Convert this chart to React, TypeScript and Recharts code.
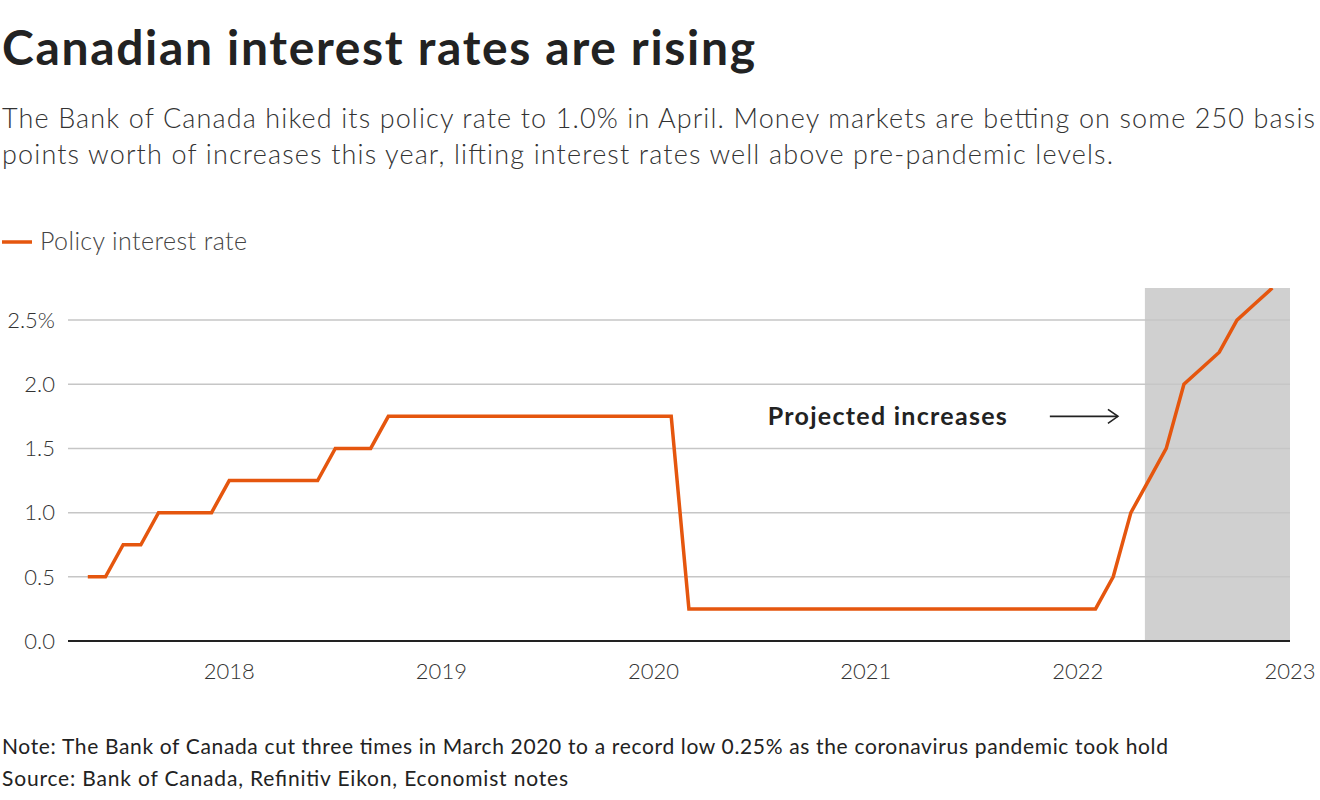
import React from 'react';
import {
  LineChart,
  Line,
  XAxis,
  YAxis,
  ReferenceArea,
  ReferenceLine,
  ReferenceDot,
} from 'recharts';

// Monthly policy rate, May 2017 – Dec 2022 (last months are market projections)
const months: string[] = [
  '2017-05', '2017-06', '2017-07', '2017-08', '2017-09', '2017-10', '2017-11', '2017-12',
  '2018-01', '2018-02', '2018-03', '2018-04', '2018-05', '2018-06', '2018-07', '2018-08', '2018-09', '2018-10', '2018-11', '2018-12',
  '2019-01', '2019-02', '2019-03', '2019-04', '2019-05', '2019-06', '2019-07', '2019-08', '2019-09', '2019-10', '2019-11', '2019-12',
  '2020-01', '2020-02', '2020-03', '2020-04', '2020-05', '2020-06', '2020-07', '2020-08', '2020-09', '2020-10', '2020-11', '2020-12',
  '2021-01', '2021-02', '2021-03', '2021-04', '2021-05', '2021-06', '2021-07', '2021-08', '2021-09', '2021-10', '2021-11', '2021-12',
  '2022-01', '2022-02', '2022-03', '2022-04', '2022-05', '2022-06', '2022-07', '2022-08', '2022-09', '2022-10', '2022-11', '2022-12',
];

const policyRate: number[] = [
  0.5, 0.5, 0.75, 0.75, 1.0, 1.0, 1.0, 1.0,
  1.25, 1.25, 1.25, 1.25, 1.25, 1.25, 1.5, 1.5, 1.5, 1.75, 1.75, 1.75,
  1.75, 1.75, 1.75, 1.75, 1.75, 1.75, 1.75, 1.75, 1.75, 1.75, 1.75, 1.75,
  1.75, 1.75, 0.25, 0.25, 0.25, 0.25, 0.25, 0.25, 0.25, 0.25, 0.25, 0.25,
  0.25, 0.25, 0.25, 0.25, 0.25, 0.25, 0.25, 0.25, 0.25, 0.25, 0.25, 0.25,
  0.25, 0.25, 0.5, 1.0, 1.25, 1.5, 2.0, 2.125, 2.25, 2.5, 2.625, 2.75,
];

const xTicks: number[] = [2018, 2019, 2020, 2021, 2022, 2023];
const yTicks: number[] = [0, 0.5, 1.0, 1.5, 2.0, 2.5];
const xDomain: [number, number] = [2017.24, 2023];
const yDomain: [number, number] = [0, 2.75];
const projectedStart = 2022.316;
const projectedEnd = 2023;
const projectedTop = 2.75;
const annotationPoint = { x: 2021.665, y: 1.75 };
const arrowSegment = { x1: 2021.868, x2: 2022.189, y: 1.75 };

const toYear = (m: string) => {
  const [y, mo] = m.split('-').map(Number);
  return y + (mo - 1) / 12;
};

const data = months.map((m, i) => ({ t: toYear(m), rate: policyRate[i] }));

const ORANGE = '#e5560e';
const FONT = 'Lato, "Noto Sans", sans-serif';

const ArrowShape = (props: any) => {
  const { x1, y1, x2, y2 } = props;
  if (x1 == null) return null;
  return (
    <g>
      <line x1={x1} y1={y1} x2={x2} y2={y2} stroke="#222" strokeWidth={1.6} />
      <polyline
        points={`${x2 - 10},${y2 - 7} ${x2},${y2} ${x2 - 10},${y2 + 7}`}
        fill="none"
        stroke="#222"
        strokeWidth={1.6}
      />
    </g>
  );
};

const AnnotationLabel = (props: any) => {
  const vb = props.viewBox || {};
  const cx = vb.cx != null ? vb.cx : vb.x + (vb.width || 0) / 2;
  const cy = vb.cy != null ? vb.cy : vb.y + (vb.height || 0) / 2;
  return (
    <text
      x={cx - 239}
      y={cy + 9}
      textAnchor="start"
      fontFamily={FONT}
      fontWeight={700}
      fontSize={25}
      fill="#222"
      textLength={239}
    >
      Projected increases
    </text>
  );
};

export default function App() {
  return (
    <div style={{ position: 'absolute', left: 0, top: 0, width: 1320, height: 800, background: '#fff', fontFamily: FONT }}>
      <svg width={1320} height={800} style={{ position: 'absolute', left: 0, top: 0 }}>
        <text x={2} y={65} fontFamily={FONT} fontWeight={700} fontSize={48} fill="#222" textLength={753}>
          Canadian interest rates are rising
        </text>
        <text x={2} y={128} fontFamily={FONT} fontWeight={300} fontSize={27} fill="#333" textLength={1313}>
          The Bank of Canada hiked its policy rate to 1.0% in April. Money markets are betting on some 250 basis
        </text>
        <text x={2} y={164} fontFamily={FONT} fontWeight={300} fontSize={27} fill="#333" textLength={1111}>
          points worth of increases this year, lifting interest rates well above pre-pandemic levels.
        </text>
        <line x1={2} y1={242} x2={32} y2={242} stroke={ORANGE} strokeWidth={3.5} />
        <text x={40} y={250} fontFamily={FONT} fontWeight={300} fontSize={25} fill="#444" textLength={207}>
          Policy interest rate
        </text>
        <text x={2} y={754} fontFamily={FONT} fontWeight={400} fontSize={21} fill="#222" textLength={1166}>
          Note: The Bank of Canada cut three times in March 2020 to a record low 0.25% as the coronavirus pandemic took hold
        </text>
        <text x={2} y={786} fontFamily={FONT} fontWeight={400} fontSize={21} fill="#222" textLength={566}>
          Source: Bank of Canada, Refinitiv Eikon, Economist notes
        </text>
      </svg>
      <div style={{ position: 'absolute', left: 0, top: 0 }}>
        <LineChart
          width={1320}
          height={800}
          data={data}
          margin={{ top: 288, right: 30, bottom: 119, left: 0 }}
        >
          <XAxis
            dataKey="t"
            type="number"
            domain={xDomain}
            ticks={xTicks}
            allowDataOverflow
            tickFormatter={(v: number) => String(Math.round(v))}
            axisLine={{ stroke: '#222', strokeWidth: 2 }}
            tickLine={false}
            tickSize={0}
            tickMargin={22}
            height={40}
            tick={{ fontFamily: FONT, fontSize: 22, fill: '#333', fontWeight: 300 }}
          />
          <YAxis
            type="number"
            domain={yDomain}
            ticks={yTicks}
            allowDataOverflow
            width={68}
            axisLine={false}
            tickLine={false}
            tickSize={0}
            tickMargin={13}
            tickFormatter={(v: number) => (v === 2.5 ? '2.5%' : v.toFixed(1))}
            tick={{ fontFamily: FONT, fontSize: 22, fill: '#333', fontWeight: 300 }}
          />
          <ReferenceArea
            x1={projectedStart}
            x2={projectedEnd}
            y1={0}
            y2={projectedTop}
            fill="#d0d0d0"
            fillOpacity={1}
            stroke="none"
          />
          {yTicks.filter((v) => v > 0).map((v) => (
            <ReferenceLine key={v} y={v} stroke="#c6c6c6" strokeWidth={1.5} />
          ))}
          <ReferenceLine
            segment={[
              { x: arrowSegment.x1, y: arrowSegment.y },
              { x: arrowSegment.x2, y: arrowSegment.y },
            ]}
            shape={ArrowShape}
          />
          <ReferenceDot
            x={annotationPoint.x}
            y={annotationPoint.y}
            r={0}
            fill="none"
            stroke="none"
            label={<AnnotationLabel />}
          />
          <Line
            type="linear"
            dataKey="rate"
            stroke={ORANGE}
            strokeWidth={3.5}
            dot={false}
            isAnimationActive={false}
          />
        </LineChart>
      </div>
    </div>
  );
}
